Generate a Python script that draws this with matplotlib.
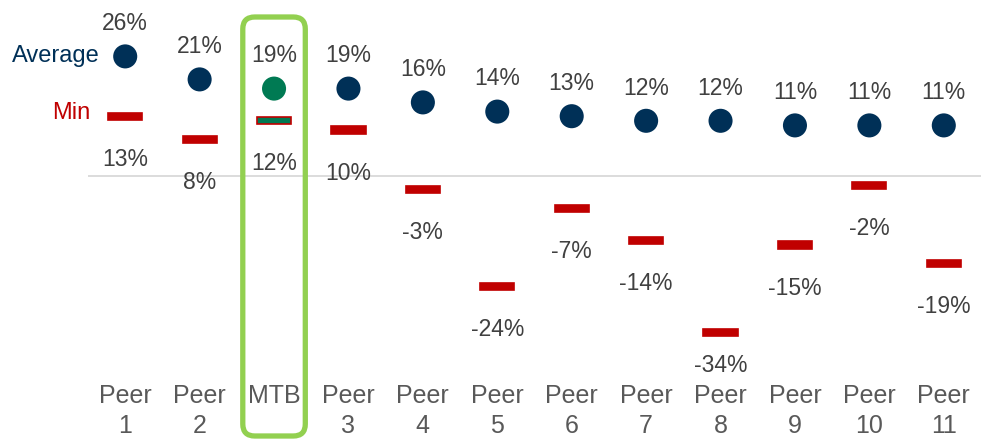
import matplotlib.pyplot as plt
import numpy as np
from matplotlib.patches import FancyBboxPatch

plt.rcParams['font.family'] = ['Liberation Sans', 'DejaVu Sans']

names = ["Peer\n1", "Peer\n2", "MTB", "Peer\n3", "Peer\n4", "Peer\n5", "Peer\n6",
         "Peer\n7", "Peer\n8", "Peer\n9", "Peer\n10", "Peer\n11"]
average = [26, 21, 19, 19, 16, 14, 13, 12, 12, 11, 11, 11]
minimum = [13, 8, 12, 10, -3, -24, -7, -14, -34, -15, -2, -19]
highlight = "MTB"

navy = "#003057"
green = "#007A53"
red = "#C00000"
label_col = "#404040"

fig = plt.figure(figsize=(9.81, 4.40), dpi=100)
ax = fig.add_axes([88 / 981, (440 - 375) / 440, 893 / 981, 375 / 440])

x = np.arange(len(names))
hi = names.index(highlight)
dot_cols = [green if i == hi else navy for i in x]
bar_cols = [green if i == hi else red for i in x]

ax.axhline(0, color="#d9d9d9", lw=1.3, zorder=0)

# min markers as short bars
ax.bar(x, 1.6, bottom=np.array(minimum) - 0.8, width=0.46,
       color=bar_cols, edgecolor=red, linewidth=1.2, zorder=2)
ax.scatter(x, average, s=300, c=dot_cols, zorder=3, linewidths=0)

for i in x:
    ax.annotate(f"{average[i]}%", (i, average[i]), xytext=(0, 23.5),
                textcoords="offset points", ha="center", va="center",
                fontsize=16.5, color=label_col)
    off = -24 if i == 8 else -31
    ax.annotate(f"{minimum[i]}%", (i, minimum[i]), xytext=(0, off),
                textcoords="offset points", ha="center", va="center",
                fontsize=16.5, color=label_col)

ax.set_xlim(-0.5, len(names) - 0.5)
ax.set_ylim(-43.26, 38.26)
ax.set_yticks([])
ax.set_xticks(x)
ax.set_xticklabels(names, fontsize=18, color="#595959", linespacing=1.3)
ax.tick_params(axis="x", length=0, pad=6.5)
for s in ax.spines.values():
    s.set_visible(False)

fig.text(100 / 981, 1 - 56 / 440, "Average", ha="right", va="center",
         fontsize=17, color=navy)
fig.text(90 / 981, 1 - 113 / 440, "Min", ha="right", va="center",
         fontsize=17, color=red)

# rounded box around the highlighted company
fig.canvas.draw()
xl = ax.transData.transform((hi - 0.42, 0))[0]
xr = ax.transData.transform((hi + 0.42, 0))[0]
box = FancyBboxPatch((xl, 4), xr - xl, 419, boxstyle="round,pad=0,rounding_size=12",
                     transform=None, fill=False, edgecolor="#92D050", linewidth=3.8,
                     zorder=5)
fig.patches.append(box)

fig.savefig("out.png", dpi=100)
